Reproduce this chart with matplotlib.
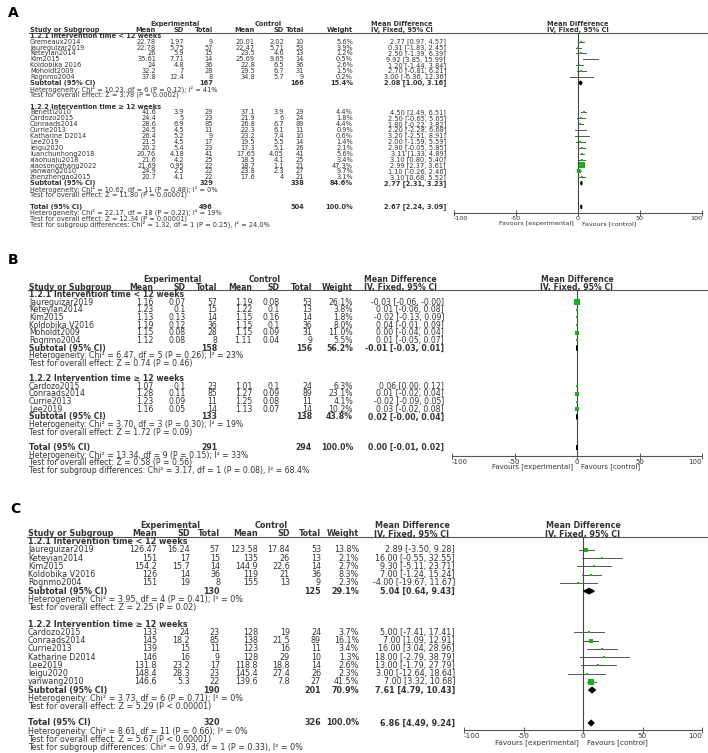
import matplotlib.pyplot as plt

# ---- data: panel A ----
a_g1 = [
    ("Gremeaux2014", 22.78, 1.97, 9, 20.01, 2.02, 10, 5.6, 2.77, 0.97, 4.57),
    ("Jaureguizar2019", 22.78, 5.75, 57, 22.47, 5.71, 53, 3.9, 0.31, -1.83, 2.45),
    ("Keteyian2014", 26, 5.9, 15, 23.5, 4.6, 13, 1.2, 2.50, -1.39, 6.39),
    ("Kim2015", 35.61, 7.71, 14, 25.69, 9.65, 14, 0.5, 9.92, 3.85, 15.99),
    ("Koldobika 2016", 24, 4.8, 36, 22.8, 6.5, 36, 2.6, 1.20, -1.44, 3.84),
    ("Moholdt2009", 32.2, 7, 28, 29.5, 6.7, 31, 1.5, 2.70, -0.81, 6.21),
    ("Rognmo2004", 37.8, 12.4, 8, 34.8, 5.7, 9, 0.2, 3.00, -6.36, 12.36),
]
a_sub1 = (167, 166, 15.4, 2.08, 1.00, 3.16)
a_het1 = "Heterogeneity: Chi² = 10.23, df = 6 (P = 0.12); I² = 41%"
a_z1 = "Test for overall effect: Z = 3.78 (P = 0.0002)"
a_g2 = [
    ("Benetti2010", 41.6, 3.9, 29, 37.1, 3.9, 29, 4.4, 4.50, 2.49, 6.51),
    ("Cardozo2015", 24.4, 5, 23, 21.9, 6, 24, 1.8, 2.50, -0.65, 5.65),
    ("Conraads2014", 28.6, 6.9, 85, 26.8, 6.7, 89, 4.4, 1.80, -0.22, 3.82),
    ("Currie2013", 24.5, 4.5, 11, 22.3, 6.1, 11, 0.9, 2.20, -2.28, 6.68),
    ("Katharine D2014", 26.4, 5.2, 9, 23.2, 7.4, 10, 0.6, 3.20, -2.51, 8.91),
    ("Lee2019", 21.5, 4.5, 17, 19.5, 5.5, 14, 1.4, 2.00, -1.59, 5.59),
    ("leigu2020", 20.2, 5.4, 23, 17.3, 5.1, 26, 2.1, 2.90, -0.05, 5.85),
    ("luanchunhong2018", 20.76, 4.18, 41, 17.65, 4.05, 41, 5.6, 3.11, 1.33, 4.89),
    ("xiaohuaju2018", 21.6, 4.2, 25, 18.5, 4.1, 25, 3.4, 3.10, 0.80, 5.40),
    ("xiaosongzhang2022", 21.69, 0.95, 22, 18.7, 1.1, 21, 47.3, 2.99, 2.37, 3.61),
    ("yanwang2010", 24.9, 2.5, 22, 23.8, 2.3, 27, 9.7, 1.10, -0.26, 2.46),
    ("zhenzhengao2015", 20.7, 4.1, 22, 17.6, 4, 21, 3.1, 3.10, 0.68, 5.52),
]
a_sub2 = (329, 338, 84.6, 2.77, 2.31, 3.23)
a_het2 = "Heterogeneity: Chi² = 10.62, df = 11 (P = 0.48); I² = 0%"
a_z2 = "Test for overall effect: Z = 11.80 (P = 0.00001)"
a_total = (496, 504, 100.0, 2.67, 2.24, 3.09)
a_foot = ["Heterogeneity: Chi² = 22.17, df = 18 (P = 0.22); I² = 19%",
          "Test for overall effect: Z = 12.34 (P = 0.00001)",
          "Test for subgroup differences: Chi² = 1.32, df = 1 (P = 0.25), I² = 24.0%"]

# ---- data: panel B ----
b_g1 = [
    ("Jaureguizar2019", 1.16, 0.07, 57, 1.19, 0.08, 53, 26.1, -0.03, -0.06, -0.0),
    ("Keteyian2014", 1.23, 0.1, 15, 1.22, 0.1, 13, 3.8, 0.01, -0.06, 0.08),
    ("Kim2015", 1.13, 0.13, 14, 1.15, 0.16, 14, 1.8, -0.02, -0.13, 0.09),
    ("Koldobika V2016", 1.19, 0.12, 36, 1.15, 0.1, 36, 8.0, 0.04, -0.01, 0.09),
    ("Moholdt2009", 1.15, 0.08, 28, 1.15, 0.09, 31, 11.0, 0.00, -0.04, 0.04),
    ("Rognmo2004", 1.12, 0.08, 8, 1.11, 0.04, 9, 5.5, 0.01, -0.05, 0.07),
]
b_sub1 = (158, 156, 56.2, -0.01, -0.03, 0.01)
b_het1 = "Heterogeneity: Chi² = 6.47, df = 5 (P = 0.26); I² = 23%"
b_z1 = "Test for overall effect: Z = 0.74 (P = 0.46)"
b_g2 = [
    ("Cardozo2015", 1.07, 0.1, 23, 1.01, 0.1, 24, 6.3, 0.06, 0.00, 0.12),
    ("Conraads2014", 1.28, 0.11, 85, 1.27, 0.09, 89, 23.1, 0.01, -0.02, 0.04),
    ("Currie2013", 1.23, 0.09, 11, 1.25, 0.08, 11, 4.1, -0.02, -0.09, 0.05),
    ("Lee2019", 1.16, 0.05, 14, 1.13, 0.07, 14, 10.2, 0.03, -0.02, 0.08),
]
b_sub2 = (133, 138, 43.8, 0.02, -0.0, 0.04)
b_het2 = "Heterogeneity: Chi² = 3.70, df = 3 (P = 0.30); I² = 19%"
b_z2 = "Test for overall effect: Z = 1.72 (P = 0.09)"
b_total = (291, 294, 100.0, 0.00, -0.01, 0.02)
b_foot = ["Heterogeneity: Chi² = 13.34, df = 9 (P = 0.15); I² = 33%",
          "Test for overall effect: Z = 0.58 (P = 0.56)",
          "Test for subgroup differences: Chi² = 3.17, df = 1 (P = 0.08), I² = 68.4%"]

# ---- data: panel C ----
c_g1 = [
    ("Jaureguizar2019", 126.47, 16.24, 57, 123.58, 17.84, 53, 13.8, 2.89, -3.50, 9.28),
    ("Keteyian2014", 151, 17, 15, 135, 26, 13, 2.1, 16.00, -0.55, 32.55),
    ("Kim2015", 154.2, 15.7, 14, 144.9, 22.6, 14, 2.7, 9.30, -5.11, 23.71),
    ("Koldobika V2016", 126, 14, 36, 119, 21, 36, 8.3, 7.00, -1.24, 15.24),
    ("Rognmo2004", 151, 19, 8, 155, 13, 9, 2.3, -4.00, -19.67, 11.67),
]
c_sub1 = (130, 125, 29.1, 5.04, 0.64, 9.43)
c_het1 = "Heterogeneity: Chi² = 3.95, df = 4 (P = 0.41); I² = 0%"
c_z1 = "Test for overall effect: Z = 2.25 (P = 0.02)"
c_g2 = [
    ("Cardozo2015", 133, 24, 23, 128, 19, 24, 3.7, 5.00, -7.41, 17.41),
    ("Conraads2014", 145, 18.2, 85, 138, 21.5, 89, 16.1, 7.00, 1.09, 12.91),
    ("Currie2013", 139, 15, 11, 123, 16, 11, 3.4, 16.00, 3.04, 28.96),
    ("Katharine D2014", 146, 16, 9, 128, 29, 10, 1.3, 18.00, -2.79, 38.79),
    ("Lee2019", 131.8, 23.2, 17, 118.8, 18.8, 14, 2.6, 13.00, -1.79, 27.79),
    ("leigu2020", 148.4, 28.3, 23, 145.4, 27.4, 26, 2.3, 3.00, -12.64, 18.64),
    ("yanwang2010", 146.6, 5.3, 22, 139.6, 7.8, 27, 41.5, 7.00, 3.32, 10.68),
]
c_sub2 = (190, 201, 70.9, 7.61, 4.79, 10.43)
c_het2 = "Heterogeneity: Chi² = 3.73, df = 6 (P = 0.71); I² = 0%"
c_z2 = "Test for overall effect: Z = 5.29 (P < 0.00001)"
c_total = (320, 326, 100.0, 6.86, 4.49, 9.24)
c_foot = ["Heterogeneity: Chi² = 8.61, df = 11 (P = 0.66); I² = 0%",
          "Test for overall effect: Z = 5.67 (P < 0.00001)",
          "Test for subgroup differences: Chi² = 0.93, df = 1 (P = 0.33), I² = 0%"]

head1 = "1.2.1 Intervention time < 12 weeks"
head2 = "1.2.2 Intervention time ≥ 12 weeks"
ticks = [-100, -50, 0, 50, 100]

W, H = 708, 753
TXT = '#333333'
GREEN = '#14b414'
LINE = '#555555'

fig = plt.figure(figsize=(W / 100, H / 100), dpi=100)
bg = fig.add_axes([0, 0, 1, 1])
bg.set_xlim(0, W)
bg.set_ylim(H, 0)
bg.axis('off')


def ci_text(md, lo, hi):
    return f"{md:.2f} [{lo:.2f}, {hi:.2f}]"


def draw_panel(letter, groups, total, foot, L):
    fs = L['fs']
    bg.text(L['letter'][0], L['letter'][1], letter, fontsize=10, fontweight='bold',
            ha='left', va='center', color='black')

    def t(x, y, s, ha='left', bold=False, size=None):
        bg.text(x, y, s, fontsize=size or fs, ha=ha, va='center', color=TXT,
                fontweight='bold' if bold else 'normal')

    c = L['cols']
    # headers
    t(L['exp_head'], L['h1'], "Experimental", 'center', True)
    t(L['ctl_head'], L['h1'], "Control", 'center', True)
    t(L['md_head'], L['h1'], "Mean Difference", 'center', True)
    t(L['md_head'], L['h2'], "IV, Fixed, 95% CI", 'center', True)
    zero_px = (L['fx0'] + L['fx1']) / 2
    t(zero_px, L['h1'], "Mean Difference", 'center', True)
    t(zero_px, L['h2'], "IV, Fixed, 95% CI", 'center', True)
    t(c[0], L['h2'], "Study or Subgroup", 'left', True)
    for x, s in zip(c[1:8], ["Mean", "SD", "Total", "Mean", "SD", "Total", "Weight"]):
        t(x, L['h2'], s, 'right', True)
    bg.plot([c[0] - 1, W], [L['line'], L['line']], color=LINE, lw=0.8)

    # forest axes
    y0, dy = L['y0'], L['dy']
    fax = fig.add_axes([L['fx0'] / W, 1 - L['axis'] / H,
                        (L['fx1'] - L['fx0']) / W, (L['axis'] - L['line']) / H])
    fax.set_facecolor('none')
    fax.set_xlim(-100, 100)
    fax.set_ylim((L['axis'] - y0) / dy, (L['line'] - y0) / dy)
    for s in ['top', 'left', 'right']:
        fax.spines[s].set_visible(False)
    fax.spines['bottom'].set_color(LINE)
    fax.spines['bottom'].set_linewidth(0.8)
    fax.set_yticks([])
    fax.set_xticks(ticks)
    fax.set_xticklabels([str(v) for v in ticks])
    fax.tick_params(axis='x', direction='inout', length=4, width=0.7, color=LINE,
                    labelsize=L['tfs'], labelcolor=TXT, pad=0.2)
    labels = fax.get_xticklabels()
    labels[0].set_ha('left')
    labels[-1].set_ha('right')
    fax.axvline(0, color='#444444', lw=0.8, zorder=1)
    t(zero_px - 4, L['axis'] + L['fav'], "Favours [experimental]", 'right', size=L['tfs'])
    t(zero_px + 4, L['axis'] + L['fav'], "Favours [control]", 'left', size=L['tfs'])

    def diamond(r, md, lo, hi):
        h = 0.32
        fax.fill([lo, md, hi, md], [r, r - h, r, r + h], color='black',
                 ec='black', lw=1.0, zorder=4)

    r = 0
    for head, rows, sub, het, z in groups:
        t(c[0], y0 + r * dy, head, 'left', True)
        r += 1
        for row in rows:
            y = y0 + r * dy
            t(c[0], y, row[0])
            for x, v in zip(c[1:7], row[1:7]):
                t(x, y, f"{v:g}", 'right')
            t(c[7], y, f"{row[7]:.1f}%", 'right')
            t(c[8], y, ci_text(*row[8:11]), 'right')
            fax.plot([row[9], row[10]], [r, r], color=LINE, lw=0.7, zorder=2)
            fax.scatter([row[8]], [r], marker='s', s=0.5 * row[7], color=GREEN,
                        lw=0, zorder=3)
            r += 1
        y = y0 + r * dy
        t(c[0], y, "Subtotal (95% CI)", 'left', True)
        t(c[3], y, str(sub[0]), 'right', True)
        t(c[6], y, str(sub[1]), 'right', True)
        t(c[7], y, f"{sub[2]:.1f}%", 'right', True)
        t(c[8], y, ci_text(*sub[3:6]), 'right', True)
        diamond(r, *sub[3:6])
        r += 1
        t(c[0], y0 + r * dy, het)
        r += 1
        t(c[0], y0 + r * dy, z)
        r += 2
    y = y0 + r * dy
    t(c[0], y, "Total (95% CI)", 'left', True)
    t(c[3], y, str(total[0]), 'right', True)
    t(c[6], y, str(total[1]), 'right', True)
    t(c[7], y, f"{total[2]:.1f}%", 'right', True)
    t(c[8], y, ci_text(*total[3:6]), 'right', True)
    diamond(r, *total[3:6])
    for line in foot:
        r += 1
        t(c[0], y0 + r * dy, line)


draw_panel("A", [(head1, a_g1, a_sub1, a_het1, a_z1), (head2, a_g2, a_sub2, a_het2, a_z2)],
           a_total, a_foot,
           dict(fs=4.8, tfs=4.6, letter=(8, 13), y0=35.7, dy=5.9, h1=24, h2=30.3, line=33.3,
                axis=213, fav=10.5, fx0=454, fx1=702,
                cols=[30, 156, 184, 213, 255, 284, 304, 353, 446],
                exp_head=175, ctl_head=268, md_head=402))

draw_panel("B", [(head1, b_g1, b_sub1, b_het1, b_z1), (head2, b_g2, b_sub2, b_het2, b_z2)],
           b_total, b_foot,
           dict(fs=5.6, tfs=5.0, letter=(8, 260), y0=294.5, dy=7.65, h1=279, h2=287, line=289.5,
                axis=455.7, fav=11, fx0=452, fx1=702,
                cols=[29, 153, 186, 217, 252, 280, 312, 353, 444],
                exp_head=172, ctl_head=265, md_head=400))

draw_panel("C", [(head1, c_g1, c_sub1, c_het1, c_z1), (head2, c_g2, c_sub2, c_het2, c_z2)],
           c_total, c_foot,
           dict(fs=5.8, tfs=5.2, letter=(10, 509), y0=541.7, dy=8.24, h1=525.7, h2=534, line=536.7,
                axis=730, fav=12.5, fx0=464, fx1=702,
                cols=[28, 157, 190, 220, 258, 290, 321, 359, 455],
                exp_head=170, ctl_head=271, md_head=412))

fig.savefig('out.png', dpi=100)
